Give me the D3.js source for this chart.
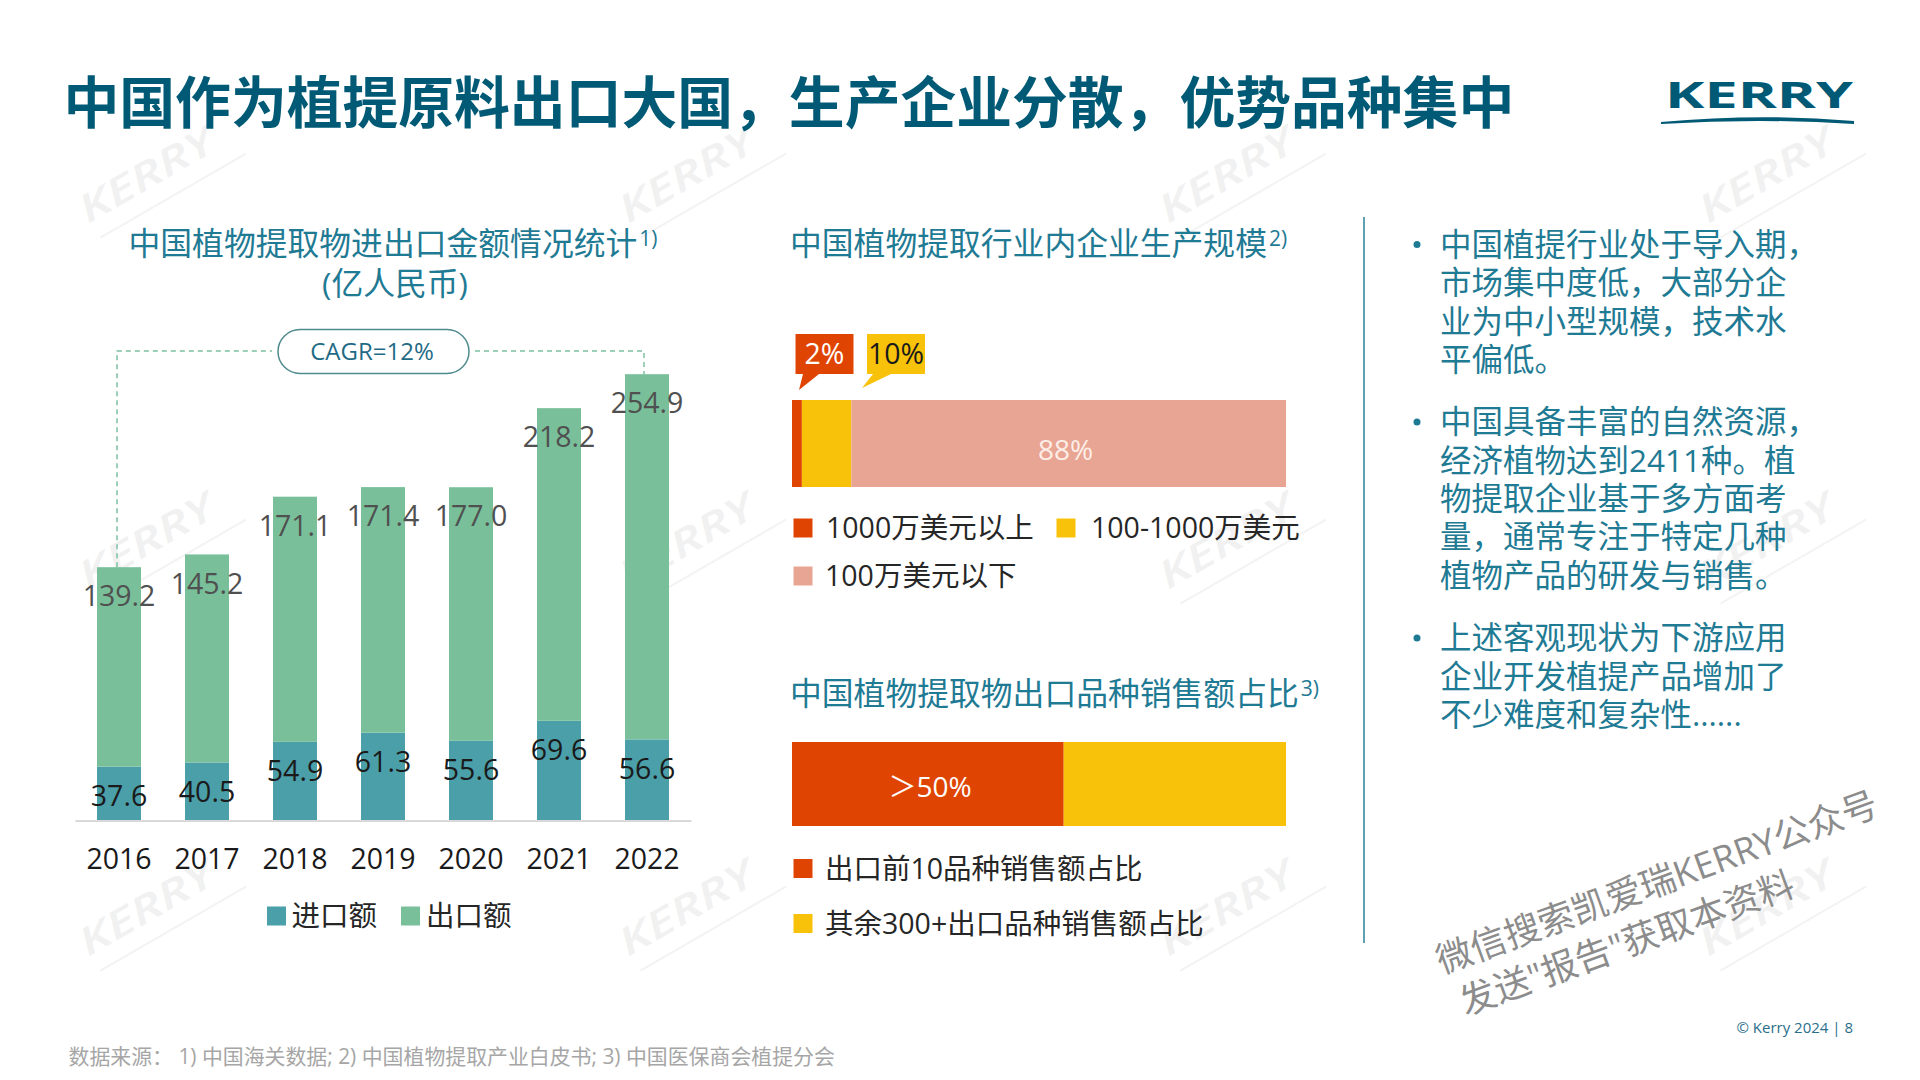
<!DOCTYPE html>
<html>
<head>
<meta charset="utf-8">
<script src="https://cdn.jsdelivr.net/npm/d3@7"></script>
<style>
  html, body { margin: 0; padding: 0; background: #fff; }
  svg { display: block; }
  text { font-family: "Open Sans", "Noto Sans CJK SC", sans-serif; }
</style>
</head>
<body>
<div id="chart"></div>
<script>
// chart data
const years = ['2016', '2017', '2018', '2019', '2020', '2021', '2022'];
const importVals = [37.6, 40.5, 54.9, 61.3, 55.6, 69.6, 56.6];
const exportVals = [139.2, 145.2, 171.1, 171.4, 177.0, 218.2, 254.9];
const tradeNames = ['进口额', '出口额'];

const scaleNames = ['1000万美元以上', '100-1000万美元', '100万美元以下'];
const scaleShares = [2, 10, 88];

const productNames = ['出口前10品种销售额占比', '其余300+出口品种销售额占比'];
const productShares = [55, 45];

const titleText = '中国作为植提原料出口大国，生产企业分散，优势品种集中';
const notes = [
  ['中国植提行业处于导入期，', '市场集中度低，大部分企', '业为中小型规模，技术水', '平偏低。'],
  ['中国具备丰富的自然资源，', '经济植物达到2411种。植', '物提取企业基于多方面考', '量，通常专注于特定几种', '植物产品的研发与销售。'],
  ['上述客观现状为下游应用', '企业开发植提产品增加了', '不少难度和复杂性......']
];

const navy = '#005a75', teal = '#1f7a94';
const red = '#e04403', yellow = '#f8c20a', pink = '#e9a593';
const tradeColors = ['#4b9fa9', '#79c09a'];
const nudge = '0.09em';   // middle baseline sits a bit high with these fonts

const svg = d3.select('#chart').append('svg')
  .attr('width', 1920)
  .attr('height', 1080);

// background KERRY watermarks
const wmX = [88, 628, 1168, 1708], wmY = [224, 590, 957];
wmX.forEach(x => wmY.forEach(y => {
  const g = svg.append('g')
    .attr('transform', `translate(${x},${y}) rotate(-30)`);
  g.append('text')
    .attr('font-size', 38)
    .attr('font-weight', 600)
    .attr('font-style', 'italic')
    .attr('fill', '#f1f1f1')
    .attr('textLength', 150)
    .attr('lengthAdjust', 'spacingAndGlyphs')
    .text('KERRY');
  g.append('line')
    .attr('x1', 4).attr('y1', 18).attr('x2', 172).attr('y2', 18)
    .attr('stroke', '#f3f3f3').attr('stroke-width', 2);
}));

// header
svg.append('text')
  .attr('x', 63.5).attr('y', 103)
  .attr('dy', nudge)
  .attr('dominant-baseline', 'middle')
  .attr('font-size', 55.8).attr('font-weight', 700)
  .attr('fill', navy)
  .text(titleText);

svg.append('text')
  .attr('x', 1665).attr('y', 108)
  .attr('font-family', '"Liberation Sans", sans-serif')
  .attr('font-size', 35).attr('font-weight', 700)
  .attr('fill', navy)
  .attr('textLength', 188)
  .attr('lengthAdjust', 'spacingAndGlyphs')
  .text('KERRY');
svg.append('path')
  .attr('d', 'M1661,122 Q1760,113 1854,121 L1854,124 Q1760,118 1661,124 Z')
  .attr('fill', navy);

// subtitles, with the footnote mark raised
function subtitle(x, y, label, mark, anchor) {
  const t = svg.append('text')
    .attr('x', x).attr('y', y)
    .attr('dy', nudge)
    .attr('dominant-baseline', 'middle')
    .attr('text-anchor', anchor || 'start')
    .attr('font-size', 31.8)
    .attr('fill', teal);
  t.append('tspan').text(label);
  if (mark) t.append('tspan').attr('dx', 2).attr('dy', -6).attr('font-size', 21).text(mark);
}
subtitle(393, 243, '中国植物提取物进出口金额情况统计', '1)', 'middle');
subtitle(395, 283, '(亿人民币)', null, 'middle');
subtitle(790, 243, '中国植物提取行业内企业生产规模', '2)');
subtitle(790, 693, '中国植物提取物出口品种销售额占比', '3)');

// left chart: stacked columns
const x = d3.scaleBand().domain(years).range([75, 691]).paddingInner(0.5).paddingOuter(0.25);
const y = d3.scaleLinear().domain([0, 320]).range([820.5, 362]);

const rows = years.map((yr, i) => ({ year: yr, imp: importVals[i], exp: exportVals[i] }));
const stacked = d3.stack().keys(['imp', 'exp'])(rows);

// CAGR bracket
const bracketColor = '#7cc0a0';
const topY = 351;
const left = x('2016') + x.bandwidth() / 2 - 2;
const right = x('2022') + x.bandwidth() / 2 - 3;
const dash = (d) => svg.append('path').attr('d', d).attr('fill', 'none')
  .attr('stroke', bracketColor).attr('stroke-width', 1.5).attr('stroke-dasharray', '5 4');
dash(`M${left},${y(importVals[0] + exportVals[0])} V${topY} H272`);
dash(`M475,${topY} H${right} V${y(importVals[6] + exportVals[6])}`);
svg.append('rect')
  .attr('x', 278).attr('y', 329.5).attr('width', 191).attr('height', 44).attr('rx', 22)
  .attr('fill', '#fff').attr('stroke', '#4f8a8c').attr('stroke-width', 1.5);
svg.append('text')
  .attr('x', 372).attr('y', 351.5)
  .attr('dy', nudge)
  .attr('text-anchor', 'middle').attr('dominant-baseline', 'middle')
  .attr('font-size', 24).attr('fill', '#1f6b85')
  .text('CAGR=12%');

svg.selectAll('g.layer')
  .data(stacked)
  .enter()
  .append('g')
    .attr('class', 'layer')
    .attr('fill', (d, i) => tradeColors[i])
  .selectAll('rect')
  .data(d => d)
  .enter()
  .append('rect')
    .attr('x', d => x(d.data.year))
    .attr('y', d => y(d[1]))
    .attr('width', x.bandwidth())
    .attr('height', d => y(d[0]) - y(d[1]));

// value labels sit a fixed distance under each segment top
stacked.forEach((layer, i) => {
  svg.selectAll('text.val' + i)
    .data(layer)
    .enter()
    .append('text')
      .attr('class', 'val' + i)
      .attr('x', d => x(d.data.year) + x.bandwidth() / 2)
      .attr('y', d => y(d[1]) + 29)
      .attr('dy', nudge)
      .attr('text-anchor', 'middle')
      .attr('dominant-baseline', 'middle')
      .attr('font-size', 28.5)
      .attr('fill', i === 0 ? '#1a1a1a' : '#505050')
      .text(d => (d[1] - d[0]).toFixed(1));
});

const xAxis = svg.append('g')
  .attr('transform', 'translate(0,820.5)')
  .call(d3.axisBottom(x).tickSize(0).tickPadding(28));
xAxis.select('.domain').attr('stroke', '#d9d9d9').attr('stroke-width', 2);
xAxis.selectAll('text')
  .attr('font-family', '"Open Sans", sans-serif')
  .attr('font-size', 28.5)
  .attr('fill', '#1a1a1a');

// small square + text legend entry
function legend(sx, ty, color, label, tx) {
  svg.append('rect')
    .attr('x', sx).attr('y', ty - 9.5)
    .attr('width', 19).attr('height', 19)
    .attr('fill', color);
  svg.append('text')
    .attr('x', tx).attr('y', ty)
    .attr('dy', nudge)
    .attr('dominant-baseline', 'middle')
    .attr('font-size', 28.5)
    .attr('fill', '#262626')
    .text(label);
}
legend(267, 916, tradeColors[0], tradeNames[0], 291.5);
legend(401, 916, tradeColors[1], tradeNames[1], 426);

// right charts: single 100% bars
const shareX = d3.scaleLinear().domain([0, 100]).range([792, 1286]);

function shareBar(shares, colors, top, h) {
  let sum = 0;
  const segs = shares.map((v, i) => {
    const s = { from: sum, to: sum + v, color: colors[i] };
    sum += v;
    return s;
  });
  svg.append('g').selectAll('rect')
    .data(segs)
    .enter()
    .append('rect')
      .attr('x', d => shareX(d.from))
      .attr('y', top)
      .attr('width', d => shareX(d.to) - shareX(d.from))
      .attr('height', h)
      .attr('fill', d => d.color);
  return segs;
}

const scaleSegs = shareBar(scaleShares, [red, yellow, pink], 400, 87);
svg.append('text')
  .attr('x', (shareX(scaleSegs[2].from) + shareX(scaleSegs[2].to)) / 2 - 3)
  .attr('y', 450)
  .attr('dy', nudge)
  .attr('text-anchor', 'middle').attr('dominant-baseline', 'middle')
  .attr('font-size', 28).attr('fill', '#fdeee8')
  .text(scaleShares[2] + '%');

// callouts above the thin segments
function callout(bx, color, textColor, label, tail) {
  svg.append('path')
    .attr('d', `M${bx},334 H${bx + 58} V374 ${tail} V334 Z`)
    .attr('fill', color);
  svg.append('text')
    .attr('x', bx + 29).attr('y', 354)
    .attr('dy', nudge)
    .attr('text-anchor', 'middle').attr('dominant-baseline', 'middle')
    .attr('font-size', 28.5).attr('fill', textColor)
    .text(label);
}
callout(795.5, red, '#fff', scaleShares[0] + '%', 'H819 L799,390 L803,374 H795.5');
callout(867, yellow, '#1a1a1a', scaleShares[1] + '%', 'H891 L862,388 L873,374 H867');

legend(793.5, 528, red, scaleNames[0], 826);
legend(1056.5, 528, yellow, scaleNames[1], 1091);
legend(793.5, 576, pink, scaleNames[2], 825);

shareBar(productShares, [red, yellow], 742, 84);
svg.append('text')
  .attr('x', 930).attr('y', 787)
  .attr('dy', nudge)
  .attr('text-anchor', 'middle').attr('dominant-baseline', 'middle')
  .attr('font-size', 28).attr('fill', '#fff')
  .text('＞50%');

legend(793.5, 868.5, red, productNames[0], 825);
legend(793.5, 923.5, yellow, productNames[1], 825);

// divider
svg.append('line')
  .attr('x1', 1364).attr('y1', 217).attr('x2', 1364).attr('y2', 943)
  .attr('stroke', '#2d7f9c').attr('stroke-width', 1.5);

// commentary
const noteTops = [244.5, 422, 638];
notes.forEach((lines, p) => {
  svg.append('circle')
    .attr('cx', 1417).attr('cy', noteTops[p]).attr('r', 3.5)
    .attr('fill', teal);
  lines.forEach((line, i) => {
    svg.append('text')
      .attr('x', 1440).attr('y', noteTops[p] + i * 38.4)
      .attr('dy', nudge)
      .attr('dominant-baseline', 'middle')
      .attr('font-size', 31.5)
      .attr('fill', teal)
      .text(line);
  });
});

// tilted note
const tilted = svg.append('g')
  .attr('transform', 'translate(1442,974) rotate(-20)')
  .attr('fill', '#8c8c8c')
  .attr('font-size', 36);
tilted.append('text').attr('x', 0).attr('y', 0).text('微信搜索凯爱瑞KERRY公众号');
tilted.append('text').attr('x', 8).attr('y', 47).text('发送"报告"获取本资料');

// footer
svg.append('text')
  .attr('x', 68.5).attr('y', 1056.5)
  .attr('dy', nudge)
  .attr('dominant-baseline', 'middle')
  .attr('font-size', 20.9)
  .attr('fill', '#a6a6a6')
  .text('数据来源： 1) 中国海关数据; 2) 中国植物提取产业白皮书; 3) 中国医保商会植提分会');
svg.append('text')
  .attr('x', 1853).attr('y', 1029)
  .attr('text-anchor', 'end')
  .attr('dominant-baseline', 'middle')
  .attr('font-size', 15)
  .attr('fill', '#2a6f8a')
  .text('© Kerry 2024 | 8');
</script>
</body>
</html>
